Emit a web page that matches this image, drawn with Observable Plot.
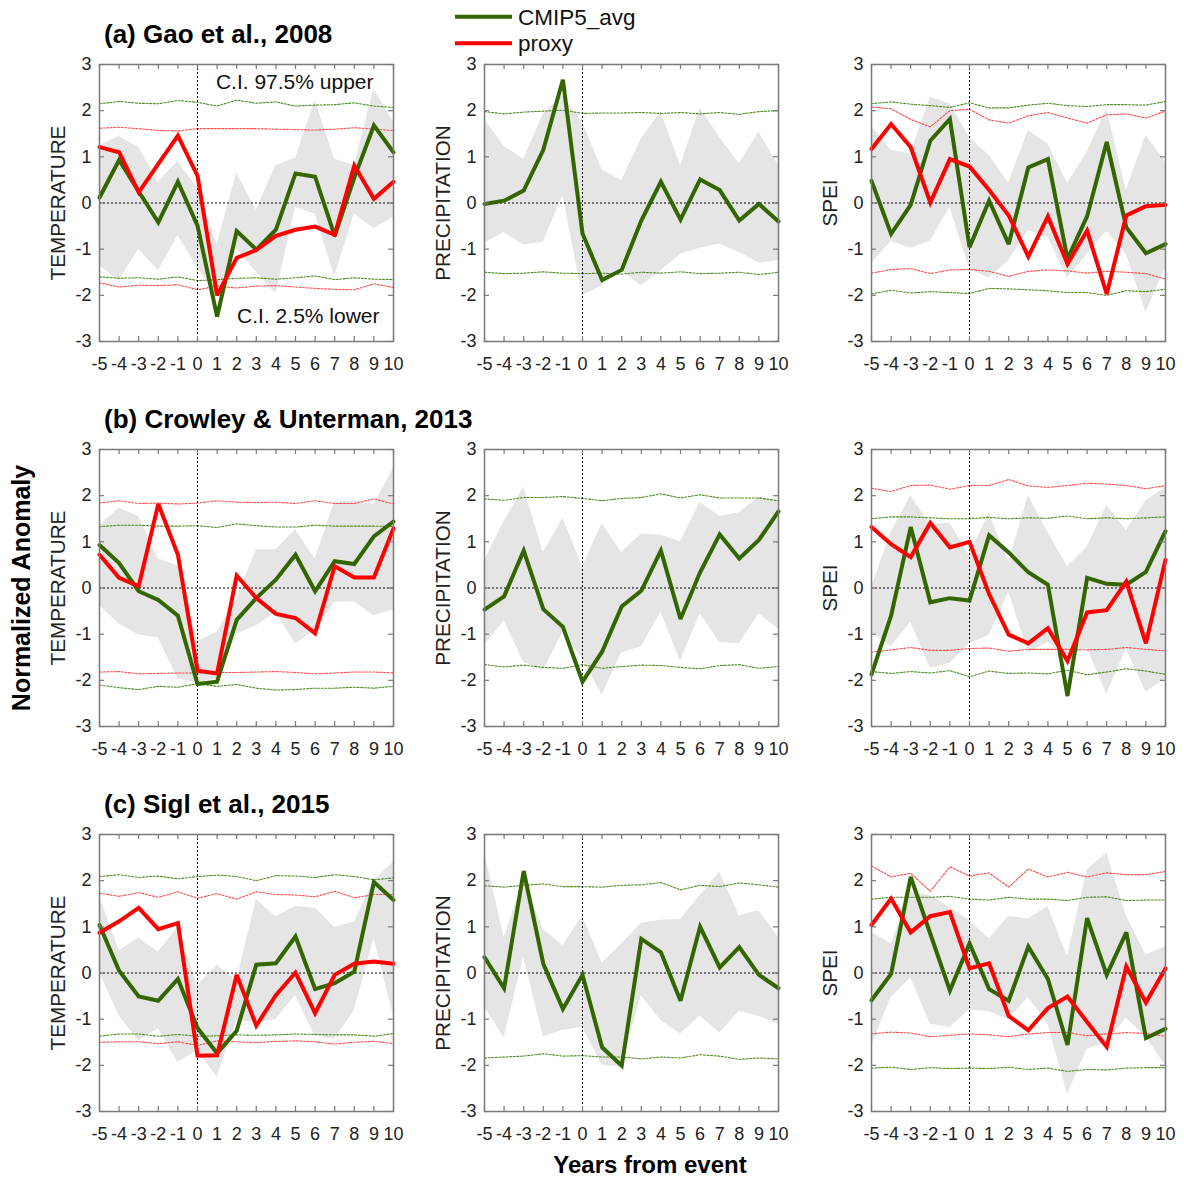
<!DOCTYPE html>
<html>
<head>
<meta charset="utf-8">
<script src="https://cdn.jsdelivr.net/npm/d3@7"></script>
<script src="https://cdn.jsdelivr.net/npm/@observablehq/plot@0.6"></script>
<style>
  html, body { margin: 0; padding: 0; background: #fff; }
  #fig { position: relative; width: 1184px; height: 1178px; font-family: "Liberation Sans", Arial, Helvetica, sans-serif; }
  #fig .panel { position: absolute; }
  #fig .panel svg { overflow: visible; }
  #overlay { position: absolute; left: 0; top: 0; pointer-events: none; }
</style>
</head>
<body>
<div id="fig"></div>
<script>
// ---------- shared axes ----------
const years = [-5, -4, -3, -2, -1, 0, 1, 2, 3, 4, 5, 6, 7, 8, 9, 10];
const xTicks = years;
const yTicks = [-3, -2, -1, 0, 1, 2, 3];
const rowTitles = ["(a) Gao et al., 2008", "(b) Crowley & Unterman, 2013", "(c) Sigl et al., 2015"];
const colLabels = ["TEMPERATURE", "PRECIPITATION", "SPEI"];
const legendLabels = ["CMIP5_avg", "proxy"];
const ciLabels = ["C.I. 97.5% upper", "C.I. 2.5% lower"];

// ---------- (a) Gao et al., 2008 ----------
const gaoTempModel  = [0.12, 0.93, 0.25, -0.42, 0.46, -0.49, -2.46, -0.61, -1.01, -0.58, 0.64, 0.57, -0.71, 0.55, 1.68, 1.10];
const gaoTempProxy  = [1.21, 1.10, 0.23, 0.85, 1.46, 0.59, -2.00, -1.19, -1.02, -0.71, -0.58, -0.51, -0.69, 0.81, 0.09, 0.46];
const gaoTempBandHi = [1.24, 1.44, 1.21, 0.45, 0.90, 0.32, -0.90, 0.65, -0.15, 0.81, 0.97, 2.22, 0.95, 0.81, 2.47, 1.75];
const gaoTempBandLo = [-1.36, -1.68, -1.00, -1.47, -0.71, -1.40, -2.00, -1.00, -1.50, -1.97, -0.10, -0.24, -1.60, -0.24, -0.56, -0.31];
const gaoTempMHi = [2.15, 2.20, 2.16, 2.15, 2.22, 2.18, 2.10, 2.23, 2.16, 2.19, 2.10, 2.12, 2.13, 2.17, 2.10, 2.07];
const gaoTempMLo = [-1.60, -1.63, -1.62, -1.65, -1.60, -1.68, -1.66, -1.63, -1.62, -1.65, -1.62, -1.58, -1.66, -1.62, -1.65, -1.66];
const gaoTempPHi = [1.62, 1.64, 1.61, 1.57, 1.56, 1.61, 1.61, 1.61, 1.61, 1.60, 1.59, 1.58, 1.60, 1.63, 1.60, 1.57];
const gaoTempPLo = [-1.73, -1.82, -1.78, -1.79, -1.77, -1.88, -1.80, -1.84, -1.80, -1.79, -1.82, -1.85, -1.87, -1.88, -1.75, -1.83];

const gaoPrecModel  = [-0.02, 0.05, 0.27, 1.15, 2.67, -0.66, -1.67, -1.45, -0.38, 0.46, -0.36, 0.51, 0.28, -0.38, -0.02, -0.40];
const gaoPrecBandHi = [1.82, 1.23, 0.95, 1.93, 2.33, 1.75, 0.72, 0.48, 1.39, 1.97, 0.81, 2.06, 1.42, 0.85, 1.53, 0.81];
const gaoPrecBandLo = [-0.87, -0.64, -0.91, -0.85, 0.16, -2.01, -1.79, -1.47, -1.79, -1.47, -1.11, -0.98, -0.89, -1.07, -1.30, -1.25];
const gaoPrecMHi = [1.98, 1.93, 1.97, 1.99, 2.01, 1.94, 1.95, 1.95, 1.96, 1.94, 1.96, 1.93, 1.96, 1.92, 1.98, 2.00];
const gaoPrecMLo = [-1.50, -1.53, -1.52, -1.49, -1.52, -1.53, -1.52, -1.54, -1.50, -1.52, -1.49, -1.53, -1.52, -1.50, -1.55, -1.50];

const gaoSpeiModel  = [0.48, -0.67, -0.04, 1.35, 1.82, -0.96, 0.05, -0.89, 0.77, 0.95, -1.21, -0.29, 1.32, -0.53, -1.09, -0.89];
const gaoSpeiProxy  = [1.17, 1.71, 1.21, 0.01, 0.95, 0.79, 0.28, -0.27, -1.16, -0.29, -1.32, -0.60, -1.97, -0.27, -0.07, -0.04];
const gaoSpeiBandHi = [1.66, 1.14, 1.06, 2.29, 2.15, 1.42, 1.03, 0.43, 1.57, 1.28, 0.43, 1.10, 2.04, 0.27, 1.46, 0.88];
const gaoSpeiBandLo = [-1.32, -0.83, -0.98, -0.83, -0.09, -1.43, -1.63, -1.25, -0.60, -0.74, -1.63, -1.11, -0.62, -1.11, -2.37, -1.40];
const gaoSpeiMHi = [2.15, 2.19, 2.14, 2.11, 2.07, 2.17, 2.06, 2.06, 2.12, 2.16, 2.11, 2.09, 2.13, 2.13, 2.12, 2.20];
const gaoSpeiMLo = [-1.97, -1.89, -1.95, -1.92, -1.94, -1.96, -1.85, -1.86, -1.88, -1.90, -1.94, -1.94, -2.00, -1.90, -1.92, -1.87];
const gaoSpeiPHi = [2.08, 2.04, 1.81, 1.65, 2.00, 2.03, 1.80, 1.73, 1.89, 1.96, 1.84, 1.73, 1.91, 1.93, 1.84, 1.99];
const gaoSpeiPLo = [-1.52, -1.44, -1.42, -1.53, -1.45, -1.44, -1.48, -1.59, -1.48, -1.45, -1.47, -1.52, -1.48, -1.50, -1.53, -1.65];

// ---------- (b) Crowley & Unterman, 2013 ----------
const crowTempModel  = [0.93, 0.54, -0.07, -0.26, -0.60, -2.08, -2.03, -0.69, -0.22, 0.18, 0.72, -0.07, 0.58, 0.52, 1.12, 1.44];
const crowTempProxy  = [0.72, 0.22, 0.04, 1.82, 0.72, -1.79, -1.85, 0.27, -0.22, -0.56, -0.65, -0.98, 0.47, 0.23, 0.23, 1.29];
const crowTempBandHi = [1.35, 1.73, 1.55, 0.63, 0.48, -1.16, -0.95, -0.24, 0.83, 0.83, 1.26, 0.63, 1.86, 1.89, 1.80, 2.60];
const crowTempBandLo = [-0.38, -0.78, -1.02, -1.08, -1.97, -2.05, -1.97, -1.00, -0.82, -0.53, -1.21, -0.93, -0.31, -0.30, -0.60, -0.47];
const crowTempMHi = [1.33, 1.36, 1.36, 1.34, 1.34, 1.35, 1.31, 1.39, 1.35, 1.32, 1.32, 1.36, 1.34, 1.34, 1.34, 1.33];
const crowTempMLo = [-2.10, -2.16, -2.20, -2.13, -2.15, -2.07, -2.13, -2.09, -2.17, -2.21, -2.20, -2.17, -2.17, -2.15, -2.17, -2.13];
const crowTempPHi = [1.84, 1.89, 1.83, 1.84, 1.82, 1.84, 1.89, 1.86, 1.85, 1.86, 1.83, 1.89, 1.83, 1.83, 1.93, 1.82];
const crowTempPLo = [-1.82, -1.81, -1.86, -1.85, -1.84, -1.84, -1.83, -1.83, -1.82, -1.81, -1.83, -1.86, -1.84, -1.82, -1.82, -1.84];

const crowPrecModel  = [-0.47, -0.18, 0.81, -0.46, -0.84, -2.03, -1.38, -0.40, -0.06, 0.81, -0.67, 0.34, 1.16, 0.64, 1.04, 1.66];
const crowPrecBandHi = [0.59, 1.44, 2.18, 0.77, 1.51, 0.46, 1.39, 0.77, 1.17, 1.14, 1.00, 1.86, 1.55, 1.63, 1.97, 1.86];
const crowPrecBandLo = [-1.25, -0.71, -1.61, -1.79, -0.96, -1.55, -2.32, -1.40, -1.27, -0.53, -1.58, -0.56, -1.18, -1.21, -0.56, -0.89];
const crowPrecMHi = [1.93, 1.90, 1.96, 1.96, 1.98, 1.94, 1.89, 1.94, 1.96, 2.04, 1.95, 2.02, 1.95, 1.95, 1.95, 1.89];
const crowPrecMLo = [-1.66, -1.71, -1.67, -1.72, -1.74, -1.66, -1.74, -1.70, -1.67, -1.68, -1.72, -1.75, -1.68, -1.66, -1.74, -1.70];

const crowSpeiModel  = [-1.87, -0.60, 1.32, -0.31, -0.22, -0.27, 1.14, 0.77, 0.34, 0.07, -2.34, 0.22, 0.09, 0.07, 0.35, 1.23];
const crowSpeiProxy  = [1.32, 0.95, 0.67, 1.41, 0.88, 1.00, -0.13, -1.01, -1.20, -0.87, -1.58, -0.53, -0.48, 0.14, -1.20, 0.61];
const crowSpeiBandHi = [0.01, 1.21, 2.00, 1.37, 1.41, 0.70, 1.63, 0.56, 2.00, 1.20, 0.46, 0.88, 1.79, 1.24, 1.89, 2.18];
const crowSpeiBandLo = [-0.96, -1.27, -0.74, -1.74, -1.63, -1.21, -1.03, -0.08, -1.40, -1.18, -1.50, -1.30, -2.30, -1.32, -2.25, -1.97];
const crowSpeiMHi = [1.50, 1.54, 1.54, 1.52, 1.50, 1.50, 1.53, 1.50, 1.52, 1.51, 1.56, 1.50, 1.52, 1.50, 1.52, 1.54];
const crowSpeiMLo = [-1.81, -1.85, -1.81, -1.84, -1.79, -1.92, -1.80, -1.85, -1.84, -1.86, -1.78, -1.88, -1.82, -1.75, -1.80, -1.87];
const crowSpeiPHi = [2.16, 2.09, 2.22, 2.23, 2.14, 2.22, 2.22, 2.35, 2.21, 2.18, 2.22, 2.27, 2.25, 2.22, 2.15, 2.22];
const crowSpeiPLo = [-1.39, -1.34, -1.29, -1.35, -1.35, -1.31, -1.30, -1.37, -1.33, -1.33, -1.33, -1.34, -1.33, -1.29, -1.33, -1.36];

// ---------- (c) Sigl et al., 2015 ----------
const siglTempModel  = [1.04, 0.05, -0.51, -0.60, -0.13, -1.19, -1.74, -1.25, 0.18, 0.21, 0.79, -0.35, -0.22, 0.03, 1.97, 1.58];
const siglTempProxy  = [0.87, 1.12, 1.41, 0.95, 1.08, -1.79, -1.78, -0.04, -1.14, -0.48, 0.01, -0.87, -0.04, 0.20, 0.25, 0.20];
const siglTempBandHi = [1.66, 0.48, 0.76, 0.45, 0.99, -0.27, 0.17, -0.17, 1.59, 1.22, 1.44, 1.40, 0.99, 1.10, 2.00, 2.41];
const siglTempBandLo = [0.01, -0.93, -1.47, -1.21, -1.94, -1.68, -2.26, -1.03, -1.08, -1.00, -0.49, -1.37, -1.43, -0.82, 0.74, -0.93];
const siglTempMHi = [2.09, 2.13, 2.07, 2.10, 2.04, 2.09, 2.12, 2.09, 2.00, 2.11, 2.10, 2.07, 2.13, 2.09, 2.02, 2.06];
const siglTempMLo = [-1.37, -1.32, -1.32, -1.37, -1.33, -1.37, -1.36, -1.34, -1.35, -1.34, -1.32, -1.33, -1.34, -1.34, -1.37, -1.31];
const siglTempPHi = [1.73, 1.66, 1.74, 1.64, 1.76, 1.62, 1.72, 1.60, 1.76, 1.70, 1.69, 1.65, 1.77, 1.63, 1.70, 1.70];
const siglTempPLo = [-1.50, -1.49, -1.49, -1.53, -1.49, -1.57, -1.47, -1.49, -1.51, -1.48, -1.47, -1.49, -1.54, -1.50, -1.48, -1.53];

const siglPrecModel  = [0.34, -0.33, 2.21, 0.20, -0.78, -0.04, -1.61, -2.01, 0.74, 0.45, -0.60, 1.00, 0.12, 0.56, -0.04, -0.33];
const siglPrecBandHi = [2.62, 0.77, 2.00, 0.95, 0.59, 1.24, 0.21, 0.63, 1.08, 1.14, 1.16, 1.68, 2.18, 1.24, 1.35, 0.77];
const siglPrecBandLo = [-0.74, -1.40, 0.34, -1.38, -1.24, -1.18, -2.00, -2.03, -0.49, -1.03, -1.32, -0.93, -1.30, -0.83, -0.94, -1.11];
const siglPrecMHi = [1.89, 1.86, 1.90, 1.93, 1.87, 1.87, 1.86, 1.90, 1.91, 1.96, 1.80, 1.90, 1.87, 1.95, 1.91, 1.86];
const siglPrecMLo = [-1.84, -1.82, -1.80, -1.75, -1.80, -1.79, -1.82, -1.82, -1.86, -1.82, -1.84, -1.77, -1.80, -1.87, -1.84, -1.86];

const siglSpeiModel  = [-0.59, -0.02, 2.08, 0.85, -0.38, 0.64, -0.35, -0.60, 0.57, -0.13, -1.56, 1.19, -0.04, 0.88, -1.41, -1.21];
const siglSpeiProxy  = [1.04, 1.61, 0.88, 1.23, 1.32, 0.10, 0.21, -0.93, -1.24, -0.76, -0.51, -1.06, -1.60, 0.14, -0.64, 0.10];
const siglSpeiBandHi = [0.88, 0.63, 1.75, 1.68, 1.42, 1.14, 0.74, 1.23, 1.17, 1.44, 0.35, 2.23, 2.60, 1.24, 0.39, 0.57];
const siglSpeiBandLo = [-1.58, -0.53, -0.11, -1.11, -1.18, -0.80, -0.84, -1.01, -0.53, -1.11, -2.62, -1.65, -1.50, -0.98, -1.38, -2.01];
const siglSpeiMHi = [1.60, 1.64, 1.64, 1.64, 1.66, 1.60, 1.58, 1.64, 1.60, 1.60, 1.57, 1.64, 1.65, 1.57, 1.58, 1.58];
const siglSpeiMLo = [-2.06, -2.04, -2.09, -2.05, -2.07, -2.06, -2.07, -2.04, -2.09, -2.06, -2.13, -2.09, -2.10, -2.06, -2.05, -2.05];
const siglSpeiPHi = [2.32, 2.08, 2.16, 1.77, 2.30, 2.10, 2.17, 1.86, 2.25, 2.08, 2.18, 2.08, 2.17, 2.13, 2.13, 2.20];
const siglSpeiPLo = [-1.32, -1.28, -1.30, -1.38, -1.35, -1.32, -1.34, -1.38, -1.32, -1.29, -1.29, -1.36, -1.32, -1.29, -1.31, -1.37];

// ---------- panel table ----------
const panels = [
  {row: 0, col: 0, model: gaoTempModel, proxy: gaoTempProxy, hi: gaoTempBandHi, lo: gaoTempBandLo, mHi: gaoTempMHi, mLo: gaoTempMLo, pHi: gaoTempPHi, pLo: gaoTempPLo, notes: true},
  {row: 0, col: 1, model: gaoPrecModel, hi: gaoPrecBandHi, lo: gaoPrecBandLo, mHi: gaoPrecMHi, mLo: gaoPrecMLo},
  {row: 0, col: 2, model: gaoSpeiModel, proxy: gaoSpeiProxy, hi: gaoSpeiBandHi, lo: gaoSpeiBandLo, mHi: gaoSpeiMHi, mLo: gaoSpeiMLo, pHi: gaoSpeiPHi, pLo: gaoSpeiPLo},
  {row: 1, col: 0, model: crowTempModel, proxy: crowTempProxy, hi: crowTempBandHi, lo: crowTempBandLo, mHi: crowTempMHi, mLo: crowTempMLo, pHi: crowTempPHi, pLo: crowTempPLo},
  {row: 1, col: 1, model: crowPrecModel, hi: crowPrecBandHi, lo: crowPrecBandLo, mHi: crowPrecMHi, mLo: crowPrecMLo},
  {row: 1, col: 2, model: crowSpeiModel, proxy: crowSpeiProxy, hi: crowSpeiBandHi, lo: crowSpeiBandLo, mHi: crowSpeiMHi, mLo: crowSpeiMLo, pHi: crowSpeiPHi, pLo: crowSpeiPLo},
  {row: 2, col: 0, model: siglTempModel, proxy: siglTempProxy, hi: siglTempBandHi, lo: siglTempBandLo, mHi: siglTempMHi, mLo: siglTempMLo, pHi: siglTempPHi, pLo: siglTempPLo},
  {row: 2, col: 1, model: siglPrecModel, hi: siglPrecBandHi, lo: siglPrecBandLo, mHi: siglPrecMHi, mLo: siglPrecMLo},
  {row: 2, col: 2, model: siglSpeiModel, proxy: siglSpeiProxy, hi: siglSpeiBandHi, lo: siglSpeiBandLo, mHi: siglSpeiMHi, mLo: siglSpeiMLo, pHi: siglSpeiPHi, pLo: siglSpeiPLo}
];

// ---------- styling / layout ----------
const FONT = "'Liberation Sans', Arial, Helvetica, sans-serif";
const GREEN = "#336600", RED = "#ff0000", BAND = "#e5e5e5";
const CI_GREEN = "#4f8a22", CI_RED = "#ff4a4a", FRAME = "#7a7a7a";
const FW = 294, FH = 277;                 // frame size
const ML = 64, MR = 14, MT = 12, MB = 42; // margins
const frameLeft = [99, 484.3, 871];
const frameTop = [64.3, 449.3, 834.3];

const fig = document.getElementById("fig");

function drawPanel(p) {
  const rows = years.map((x, i) => ({
    x, lo: p.lo[i], hi: p.hi[i], m: p.model[i], mHi: p.mHi[i], mLo: p.mLo[i],
    pr: p.proxy ? p.proxy[i] : null, pHi: p.pHi ? p.pHi[i] : null, pLo: p.pLo ? p.pLo[i] : null
  }));
  const dotted = {strokeWidth: 1.1, strokeDasharray: "2,1.6"};
  const marks = [
    Plot.areaY(rows, {x: "x", y1: "lo", y2: "hi", fill: BAND}),
    Plot.lineY(rows, {x: "x", y: "mHi", stroke: CI_GREEN, ...dotted}),
    Plot.lineY(rows, {x: "x", y: "mLo", stroke: CI_GREEN, ...dotted})
  ];
  if (p.proxy) {
    marks.push(
      Plot.lineY(rows, {x: "x", y: "pHi", stroke: CI_RED, ...dotted}),
      Plot.lineY(rows, {x: "x", y: "pLo", stroke: CI_RED, ...dotted})
    );
  }
  marks.push(
    Plot.ruleY([0], {stroke: "#000", strokeWidth: 1, strokeDasharray: "2,2"}),
    Plot.ruleX([0], {stroke: "#000", strokeWidth: 1, strokeDasharray: "2,2"}),
    Plot.lineY(rows, {x: "x", y: "m", stroke: GREEN, strokeWidth: 4, strokeLinejoin: "miter", strokeMiterlimit: 3})
  );
  if (p.proxy) {
    marks.push(Plot.lineY(rows, {x: "x", y: "pr", stroke: RED, strokeWidth: 4, strokeLinejoin: "miter", strokeMiterlimit: 3}));
  }
  marks.push(
    Plot.frame({stroke: FRAME, strokeWidth: 1.5}),
    Plot.tickX(xTicks, {stroke: FRAME, strokeWidth: 1.2, insetTop: FH - 5}),
    Plot.tickX(xTicks, {stroke: FRAME, strokeWidth: 1.2, insetBottom: FH - 5}),
    Plot.tickY(yTicks, {stroke: FRAME, strokeWidth: 1.2, insetRight: FW - 5}),
    Plot.tickY(yTicks, {stroke: FRAME, strokeWidth: 1.2, insetLeft: FW - 5}),
    Plot.text([colLabels[p.col]], {frameAnchor: "left", textAnchor: "middle", lineAnchor: "middle", rotate: -90, dx: -41, fontSize: 20.7, fill: "#222"})
  );
  if (p.notes) {
    marks.push(
      Plot.text([ciLabels[0]], {frameAnchor: "top-right", textAnchor: "end", lineAnchor: "bottom", dx: -20, dy: 24, fontSize: 21, fill: "#111"}),
      Plot.text([ciLabels[1]], {frameAnchor: "bottom-right", textAnchor: "end", lineAnchor: "bottom", dx: -14, dy: -19, fontSize: 21, fill: "#111"})
    );
  }
  const svg = Plot.plot({
    width: ML + FW + MR,
    height: MT + FH + MB,
    marginLeft: ML, marginRight: MR, marginTop: MT, marginBottom: MB,
    style: {fontFamily: FONT, fontSize: "18px", color: "#222", background: "transparent", overflow: "visible"},
    x: {domain: [-5, 10], ticks: xTicks, tickFormat: d => String(d), tickSize: 0, tickPadding: 16, label: null},
    y: {domain: [-3, 3], ticks: yTicks, tickFormat: d => String(d), tickSize: 0, tickPadding: 8, label: null},
    marks
  });
  const wrap = document.createElement("div");
  wrap.className = "panel";
  wrap.style.left = (frameLeft[p.col] - ML) + "px";
  wrap.style.top = (frameTop[p.row] - MT) + "px";
  wrap.appendChild(svg);
  fig.appendChild(wrap);
}

panels.forEach(drawPanel);

// ---------- overlay: titles, legend, shared labels ----------
const ns = "http://www.w3.org/2000/svg";
const ov = document.createElementNS(ns, "svg");
ov.setAttribute("id", "overlay");
ov.setAttribute("width", 1184);
ov.setAttribute("height", 1178);
ov.style.fontFamily = FONT;
function addText(str, attrs) {
  const t = document.createElementNS(ns, "text");
  for (const k in attrs) t.setAttribute(k, attrs[k]);
  t.textContent = str;
  ov.appendChild(t);
  return t;
}
const titleBase = [43, 428, 813];
rowTitles.forEach((s, i) => addText(s, {x: 104, y: titleBase[i], "font-size": 26, "font-weight": "bold", fill: "#000"}));
addText("Normalized Anomaly", {transform: "translate(30,588) rotate(-90)", "text-anchor": "middle", "font-size": 25, "font-weight": "bold", fill: "#000"});
addText("Years from event", {x: 650, y: 1173, "text-anchor": "middle", "font-size": 24, "font-weight": "bold", fill: "#000"});
// legend
const legendColors = [GREEN, RED];
const legendY = [16.7, 43.3];
legendLabels.forEach((s, i) => {
  const l = document.createElementNS(ns, "line");
  l.setAttribute("x1", 455); l.setAttribute("x2", 512);
  l.setAttribute("y1", legendY[i]); l.setAttribute("y2", legendY[i]);
  l.setAttribute("stroke", legendColors[i]); l.setAttribute("stroke-width", 4);
  ov.appendChild(l);
  addText(s, {x: 518, y: legendY[i] + 8, "font-size": 22.5, fill: "#111"});
});
fig.appendChild(ov);
</script>
</body>
</html>
